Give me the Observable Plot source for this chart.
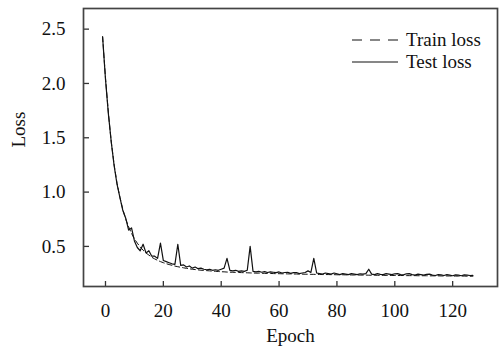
<!DOCTYPE html>
<html>
<head>
<meta charset="utf-8">
<script src="https://cdn.jsdelivr.net/npm/d3@7"></script>
<script src="https://cdn.jsdelivr.net/npm/@observablehq/plot@0.6"></script>
<style>
  html, body { margin: 0; padding: 0; background: #fff; }
  #chart svg { display: block; }
</style>
</head>
<body>
<div id="chart"></div>
<script>
const firstEpoch = -1;
const trainLoss = [
  2.43, 2.05, 1.73, 1.46, 1.25, 1.08, 0.95, 0.84, 0.75, 0.68,
  0.62, 0.57, 0.53, 0.495, 0.465, 0.44, 0.42, 0.40, 0.385, 0.372,
  0.36, 0.35, 0.341, 0.333, 0.326, 0.319, 0.313, 0.308, 0.303, 0.298,
  0.294, 0.29, 0.287, 0.284, 0.281, 0.279, 0.277, 0.275, 0.273, 0.271,
  0.269, 0.267, 0.266, 0.264, 0.263, 0.262, 0.261, 0.26, 0.259, 0.258,
  0.257, 0.256, 0.255, 0.254, 0.254, 0.253, 0.252, 0.251, 0.251, 0.25,
  0.249, 0.249, 0.248, 0.248, 0.247, 0.247, 0.246, 0.246, 0.245, 0.245,
  0.244, 0.244, 0.243, 0.243, 0.242, 0.242, 0.241, 0.241, 0.241, 0.24,
  0.24, 0.239, 0.239, 0.239, 0.238, 0.238, 0.237, 0.237, 0.237, 0.236,
  0.236, 0.236, 0.235, 0.235, 0.235, 0.234, 0.234, 0.234, 0.233, 0.233,
  0.233, 0.232, 0.232, 0.232, 0.232, 0.231, 0.231, 0.231, 0.231, 0.23,
  0.23, 0.23, 0.23, 0.229, 0.229, 0.229, 0.229, 0.228, 0.228, 0.228,
  0.228, 0.227, 0.227, 0.227, 0.227, 0.227, 0.226, 0.226, 0.226
];
const testLoss = [
  2.43, 2.04, 1.72, 1.46, 1.24, 1.07, 0.95, 0.83, 0.76, 0.65,
  0.67, 0.55, 0.49, 0.46, 0.52, 0.44, 0.46, 0.41, 0.41, 0.39,
  0.53, 0.37, 0.36, 0.35, 0.34, 0.335, 0.52, 0.325, 0.33, 0.31,
  0.32, 0.30, 0.31, 0.295, 0.30, 0.29, 0.285, 0.29, 0.28, 0.285,
  0.28, 0.29, 0.30, 0.39, 0.28, 0.275, 0.28, 0.27, 0.275, 0.27,
  0.28, 0.50, 0.27, 0.265, 0.27, 0.262, 0.268, 0.26, 0.265, 0.262,
  0.258, 0.265, 0.255, 0.26, 0.262, 0.252, 0.258, 0.26, 0.25, 0.255,
  0.26, 0.275, 0.26, 0.39, 0.255, 0.25, 0.245, 0.255, 0.25, 0.245,
  0.255, 0.248, 0.24, 0.25, 0.245, 0.24, 0.25, 0.245, 0.24, 0.248,
  0.245, 0.25, 0.29, 0.245, 0.24, 0.25, 0.243, 0.24, 0.25, 0.245,
  0.24, 0.248, 0.25, 0.24, 0.238, 0.248, 0.25, 0.24, 0.236, 0.245,
  0.24, 0.235, 0.242, 0.245, 0.236, 0.232, 0.24, 0.238, 0.232, 0.24,
  0.235, 0.23, 0.238, 0.235, 0.23, 0.238, 0.236, 0.232, 0.234
];
const xTicks = [0, 20, 40, 60, 80, 100, 120];
const yTicks = [0.5, 1.0, 1.5, 2.0, 2.5];
const seriesNames = ["Train loss", "Test loss"];

const rows = [];
trainLoss.forEach((v, i) => rows.push({epoch: firstEpoch + i, loss: v, series: seriesNames[0]}));
testLoss.forEach((v, i) => rows.push({epoch: firstEpoch + i, loss: v, series: seriesNames[1]}));

const font = "'Liberation Serif', 'Times New Roman', serif";
const ink = "#111";
const fs = 19;

const legend = (index, scales, values, dims) => {
  const g = d3.create("svg:g");
  const x0 = dims.width - dims.marginRight - 145;
  const ys = [dims.marginTop + 32, dims.marginTop + 54];
  seriesNames.forEach((name, i) => {
    g.append("line")
      .attr("x1", x0).attr("x2", x0 + 46)
      .attr("y1", ys[i]).attr("y2", ys[i])
      .attr("stroke", ink).attr("stroke-width", 1.2)
      .attr("stroke-dasharray", i === 0 ? "10,8" : null);
    g.append("text")
      .attr("x", x0 + 54).attr("y", ys[i]).attr("dy", "0.32em")
      .attr("text-anchor", "start")
      .attr("font-family", font).attr("font-size", fs).attr("fill", ink)
      .text(name);
  });
  return g.node();
};

const chart = Plot.plot({
  width: 500,
  height: 349,
  marginLeft: 83,
  marginRight: 3,
  marginTop: 8,
  marginBottom: 63,
  style: {fontFamily: font, fontSize: fs + "px", color: ink, background: "#fff"},
  x: {domain: [-7.6, 135.5], ticks: xTicks},
  y: {domain: [0.131, 2.69], ticks: yTicks},
  marks: [
    Plot.axisX({ticks: xTicks, tickSize: 0, tickPadding: 17, label: null, fontSize: fs}),
    Plot.axisX({ticks: xTicks, tickSize: -5, text: null, label: null, stroke: "#333", strokeWidth: 1.3}),
    Plot.axisY({ticks: yTicks, tickSize: 0, tickPadding: 18, tickFormat: d3.format(".1f"), label: null, fontSize: fs}),
    Plot.axisY({ticks: yTicks, tickSize: -6, text: null, label: null, stroke: "#333", strokeWidth: 1.3}),
    Plot.line(rows.filter(d => d.series === seriesNames[0]), {x: "epoch", y: "loss", stroke: ink, strokeWidth: 1, strokeDasharray: "5,3"}),
    Plot.line(rows.filter(d => d.series === seriesNames[1]), {x: "epoch", y: "loss", stroke: ink, strokeWidth: 1.2}),
    Plot.frame({stroke: "#444", strokeWidth: 1.7}),
    Plot.text(["Epoch"], {frameAnchor: "bottom", dy: 55, fontSize: fs, fill: ink}),
    Plot.text(["Loss"], {frameAnchor: "left", dx: -65, rotate: -90, fontSize: fs, fill: ink}),
    legend
  ]
});
document.getElementById("chart").appendChild(chart);
</script>
</body>
</html>
